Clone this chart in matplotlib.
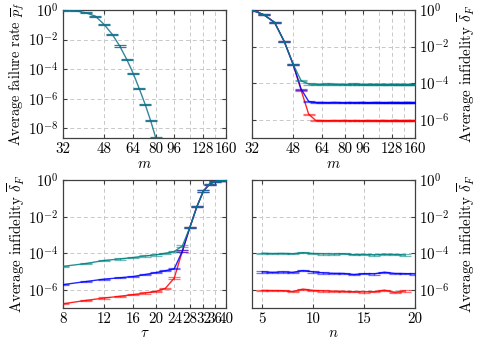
import matplotlib
matplotlib.use("Agg")
import matplotlib.pyplot as plt
from matplotlib.ticker import FixedLocator, FixedFormatter, NullFormatter, LogFormatterMathtext, NullLocator

plt.rcParams['font.family'] = ['cmr10', 'DejaVu Serif']
plt.rcParams['mathtext.fontset'] = 'cm'
plt.rcParams['axes.formatter.use_mathtext'] = True
plt.rcParams['font.size'] = 10.8

TEAL = '#008080'
BLUE = '#0000ff'
RED = '#ff0000'
REL_ERR = 0.08

# panel 1: failure rate vs m
m_fail = [32, 36, 40, 44, 48, 52, 56, 60, 64, 68, 72, 76, 80]
fail_rate = [1.0, 0.9, 0.66, 0.39, 0.108, 2.3e-2, 3.7e-3, 4.7e-4, 5.2e-5, 4.6e-6, 4.2e-7, 3.3e-8, 2.2e-9]

# panel 2: infidelity vs m
m_inf = list(range(32, 161, 4))
inf_m_teal = [1.0, 0.55, 0.21, 0.019, 1.1e-3, 1.35e-4, 9.0e-5, 8.8e-5,
              8.7e-5, 8.9e-5, 8.6e-5, 8.8e-5, 8.5e-5, 8.7e-5, 8.9e-5, 8.6e-5, 8.4e-5, 8.7e-5, 8.8e-5, 8.6e-5, 8.5e-5,
              8.7e-5, 8.6e-5, 8.4e-5, 8.8e-5, 8.6e-5, 8.5e-5, 8.7e-5, 8.6e-5, 8.4e-5, 8.6e-5, 8.7e-5, 8.5e-5]
inf_m_blue = [1.0, 0.55, 0.21, 0.019, 1.1e-3, 4.7e-5, 1.0e-5, 8.8e-6,
              8.8e-6, 8.6e-6, 8.9e-6, 8.7e-6, 8.5e-6, 8.8e-6, 8.6e-6, 8.7e-6, 8.9e-6, 8.5e-6, 8.6e-6, 8.8e-6, 8.7e-6,
              8.6e-6, 8.5e-6, 8.7e-6, 8.8e-6, 8.6e-6, 8.7e-6, 8.5e-6, 8.6e-6, 8.8e-6, 8.7e-6, 8.6e-6, 8.7e-6]
inf_m_red = [1.0, 0.55, 0.21, 0.019, 1.1e-3, 4.0e-5, 2.0e-6, 9.2e-7,
             9.0e-7, 8.8e-7, 9.1e-7, 8.9e-7, 9.2e-7, 8.8e-7, 9.0e-7, 8.9e-7, 8.7e-7, 9.1e-7, 8.9e-7, 9.0e-7, 8.8e-7,
             9.1e-7, 8.9e-7, 8.8e-7, 9.0e-7, 9.2e-7, 8.9e-7, 8.8e-7, 9.0e-7, 8.9e-7, 9.1e-7, 8.8e-7, 9.0e-7]

# panel 3: infidelity vs tau
tau = list(range(8, 41, 2))
inf_tau_teal = [1.9e-5, 2.7e-5, 4.0e-5, 4.8e-5, 5.8e-5, 7.0e-5, 8.1e-5, 1.0e-4, 1.23e-4,
                2.5e-4, 2.6e-3, 3.5e-2, 0.25, 0.6, 0.87, 0.95, 0.98]
inf_tau_blue = [1.9e-6, 2.8e-6, 3.8e-6, 4.5e-6, 5.3e-6, 6.8e-6, 8.7e-6, 1.1e-5, 1.4e-5,
                1.3e-4, 2.6e-3, 3.5e-2, 0.25, 0.6, 0.87, 0.95, 0.98]
inf_tau_red = [1.7e-7, 2.6e-7, 3.5e-7, 4.4e-7, 5.4e-7, 6.6e-7, 8.1e-7, 1.2e-6, 4.4e-6,
               1.3e-4, 2.6e-3, 3.5e-2, 0.25, 0.6, 0.87, 0.95, 0.98]

# panel 4: infidelity vs n
n_short = list(range(5, 20))
n_long = list(range(5, 21))
inf_n_teal = [1.0e-4, 9.5e-5, 9.8e-5, 9.3e-5, 1.07e-4, 9.6e-5, 9.2e-5, 8.9e-5, 9.3e-5, 8.3e-5,
              8.6e-5, 8.0e-5, 8.8e-5, 8.5e-5, 7.9e-5]
inf_n_blue = [9.5e-6, 9.0e-6, 9.3e-6, 9.0e-6, 1.12e-5, 9.5e-6, 8.3e-6, 7.9e-6, 7.8e-6, 6.8e-6,
              7.6e-6, 7.4e-6, 9.1e-6, 7.8e-6, 7.6e-6, 7.3e-6]
inf_n_red = [9.2e-7, 9.0e-7, 8.9e-7, 8.0e-7, 1.08e-6, 9.2e-7, 8.6e-7, 8.4e-7, 8.2e-7, 7.7e-7,
             7.6e-7, 7.8e-7, 9.5e-7, 7.3e-7, 8.6e-7]

m_ticks = [32, 48, 64, 80, 96, 128, 160]
m_grid = [112, 144]
tau_ticks = [8, 12, 16, 20, 24, 28, 32, 36, 40]
n_ticks = [5, 10, 15, 20]
y_ticks_fail = [1e0, 1e-2, 1e-4, 1e-6, 1e-8]
y_ticks_inf = [1e0, 1e-2, 1e-4, 1e-6]

ylabel_inf = r'Average infidelity $\overline{\delta}_F$'


def draw(ax, x, y, color, cap_alpha=0.55):
    yerr = [v * REL_ERR for v in y]
    ax.plot(x, y, color=color, lw=1.0, alpha=0.85, zorder=3)
    ax.errorbar(x, y, yerr=yerr, fmt='none', ecolor=color, elinewidth=0.8,
                capsize=4, capthick=0.9, alpha=cap_alpha, zorder=3)


def style(ax, xticks, grid_extra, log_x, yticks, ylim, right=False):
    if log_x:
        ax.set_xscale('log')
    ax.set_yscale('log')
    ax.set_ylim(*ylim)
    ax.xaxis.set_major_locator(FixedLocator(xticks))
    ax.xaxis.set_major_formatter(FixedFormatter([str(t) for t in xticks]))
    ax.xaxis.set_minor_locator(FixedLocator(grid_extra))
    ax.xaxis.set_minor_formatter(NullFormatter())
    ax.yaxis.set_major_locator(FixedLocator(yticks))
    ax.yaxis.set_major_formatter(LogFormatterMathtext())
    ax.yaxis.set_minor_locator(NullLocator())
    ax.grid(True, which='both', axis='x', ls=(0, (4, 3)), color='#c8c8c8', lw=0.7)
    ax.grid(True, which='major', axis='y', ls=(0, (4, 3)), color='#c8c8c8', lw=0.7)
    ax.tick_params(which='both', direction='in', length=3, top=True, right=True,
                   color='#404040', pad=3)
    ax.tick_params(which='minor', length=0)
    if right:
        ax.yaxis.tick_right()
        ax.yaxis.set_label_position('right')
        ax.tick_params(which='major', left=True)
    for s in ax.spines.values():
        s.set_color('#404040')
        s.set_linewidth(0.9)
    ax.set_axisbelow(True)


fig = plt.figure(figsize=(4.78, 3.43), dpi=100)
w, h = 0.341, 0.373
ax1 = fig.add_axes([0.1318, 0.5977, w, h])
ax2 = fig.add_axes([0.5272, 0.5977, w, h])
ax3 = fig.add_axes([0.1318, 0.102, w, h])
ax4 = fig.add_axes([0.5272, 0.102, w, h])

# top left
draw(ax1, m_fail, fail_rate, '#13708c', cap_alpha=0.9)
style(ax1, m_ticks, m_grid, True, y_ticks_fail, (2.2e-9, 1.0))
ax1.set_xlim(32, 160)
ax1.set_xlabel(r'$m$', labelpad=1)
ax1.set_ylabel(r'Average failure rate $\overline{p}_f$', labelpad=1, fontsize=10.3)

# top right
draw(ax2, m_inf, inf_m_red, RED)
draw(ax2, m_inf, inf_m_blue, BLUE)
draw(ax2, m_inf, inf_m_teal, TEAL)
style(ax2, m_ticks, m_grid, True, y_ticks_inf, (1e-7, 1.0), right=True)
ax2.set_xlim(32, 160)
ax2.set_xlabel(r'$m$', labelpad=1)
ax2.set_ylabel(ylabel_inf, labelpad=4)

# bottom left
draw(ax3, tau, inf_tau_red, RED)
draw(ax3, tau, inf_tau_blue, BLUE)
draw(ax3, tau, inf_tau_teal, TEAL)
style(ax3, tau_ticks, [], True, y_ticks_inf, (1e-7, 1.0))
ax3.set_xlim(8, 40)
ax3.set_xlabel(r'$\tau$', labelpad=0)
ax3.set_ylabel(ylabel_inf, labelpad=1)

# bottom right
draw(ax4, n_short, inf_n_red, RED)
draw(ax4, n_long, inf_n_blue, BLUE)
draw(ax4, n_short, inf_n_teal, TEAL)
style(ax4, n_ticks, [], False, y_ticks_inf, (1e-7, 1.0), right=True)
ax4.set_xlim(4, 20)
ax4.set_xlabel(r'$n$', labelpad=0)
ax4.set_ylabel(ylabel_inf, labelpad=4)

fig.savefig('out.png', dpi=100)
